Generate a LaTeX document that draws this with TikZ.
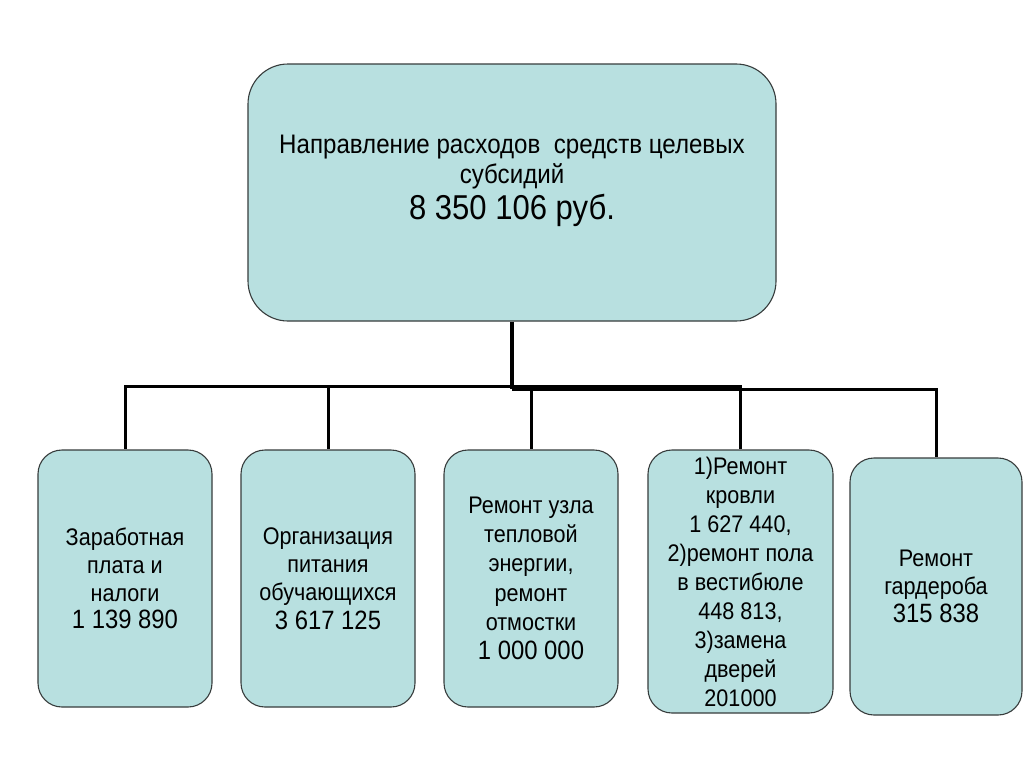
\documentclass[tikz,border=0pt]{standalone}
\usepackage{fontspec}
\setmainfont[FakeStretch=0.9]{Liberation Sans}
\definecolor{boxfill}{RGB}{184,224,224}
\definecolor{boxline}{RGB}{55,60,60}
\tikzset{
  box/.style={draw=boxline, line width=1.1pt, fill=boxfill, rounded corners=24pt, inner sep=0pt, align=center,
    font=\fontsize{24}{28.8}\selectfont},
  conn/.style={draw=black, line width=3pt},
}
\newcommand{\num}[1]{{\fontsize{26.5}{28.8}\selectfont #1}}
\begin{document}
\begin{tikzpicture}[x=1pt,y=-1pt]
\useasboundingbox (0,0) rectangle (1024,768);
\fill[white] (0,0) rectangle (1024,768);
\coordinate (j1) at (512,386);
\coordinate (j2) at (512,389);
% top box
\node[box, rounded corners=40pt, minimum width=528pt, minimum height=257pt] (top) at (512,192.5) {};
\node[align=center, font=\fontsize{26.8}{30}\selectfont] (toptext) at (512,162) {Направление расходов\ \ средств целевых\\субсидий};
\node[font=\fontsize{34.5}{36}\selectfont] (topnum) at (512,210) {8 350 106 руб.};
% children
\node[box, font=\fontsize{24}{27.8}\selectfont, minimum width=174pt, minimum height=257pt] (b1) at (125,578.5)
  {Заработная\\плата и\\налоги\\\num{1 139 890}};
\node[box, font=\fontsize{24}{28.2}\selectfont, minimum width=174pt, minimum height=257pt] (b2) at (328,578.5)
  {Организация\\питания\\обучающихся\\\num{3 617 125}};
\node[box, font=\fontsize{24}{29.3}\selectfont, minimum width=174pt, minimum height=257pt] (b3) at (531,578.5)
  {Ремонт узла\\тепловой\\энергии,\\ремонт\\отмостки\\\num{1 000 000}};
\node[box, font=\fontsize{24}{29}\selectfont, minimum width=185pt, minimum height=263pt] (b4) at (740.5,581.5)
  {1)Ремонт\\кровли\\1 627 440,\\2)ремонт пола\\в вестибюле\\448 813,\\3)замена\\дверей\\201000};
\node[box, font=\fontsize{24}{28}\selectfont, minimum width=172pt, minimum height=257pt] (b5) at (936,586.5)
  {Ремонт\\гардероба\\\num{315 838}};
% connectors
\draw[conn, line width=4pt] (top.south) -- (j2);
\draw[conn] (j1) -| (b1.north);
\draw[conn] (j1) -| (b2.north);
\draw[conn] (j1) -| (b4.north);
\draw[conn] (j2) -| (b3.north);
\draw[conn] (j2) -| (b5.north);
\end{tikzpicture}
\end{document}
